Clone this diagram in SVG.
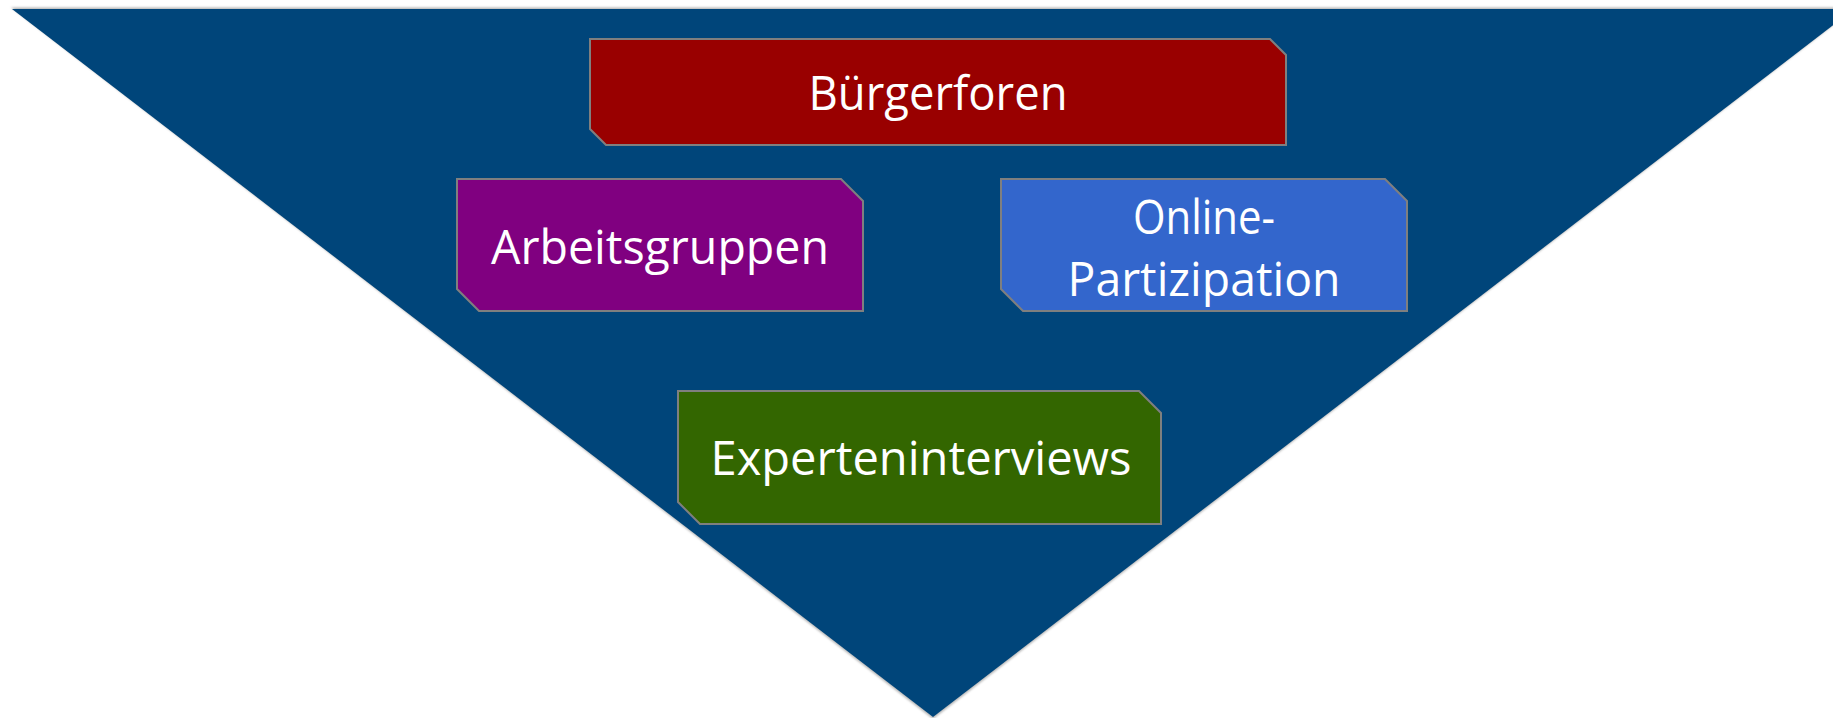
<svg xmlns="http://www.w3.org/2000/svg" width="1833" height="718" viewBox="0 0 1833 718">
  <defs>
    <filter id="soft" x="-5%" y="-5%" width="110%" height="110%">
      <feGaussianBlur stdDeviation="1.2"/>
    </filter>
    <style>
      .funnel { fill: #00457a; }
      .funnel-shadow { fill: #6f6f6f; opacity: 0.5; }
      .box { stroke: #7f7f7f; stroke-width: 2; }
      .label { font-family: "Open Sans", "Noto Sans", "Liberation Sans", sans-serif; font-size: 48px; fill: #ffffff; text-anchor: middle; }
    </style>
  </defs>

  <!-- background funnel -->
  <g id="funnel">
    <polygon class="funnel-shadow" points="11,7.5 1856,7.5 933,719" filter="url(#soft)"/>
    <polygon class="funnel" points="12,9 1854,9 933,717"/>
  </g>

  <g id="connectors"></g>

  <g id="node-buergerforen">
    <polygon class="box" fill="#990000" points="590,39 1270,39 1286,55 1286,145 606,145 590,129"/>
    <text class="label" x="938" y="110" textLength="259" lengthAdjust="spacingAndGlyphs">Bürgerforen</text>
  </g>

  <g id="node-arbeitsgruppen">
    <polygon class="box" fill="#800080" points="457,179 841,179 863,201 863,311 479,311 457,289"/>
    <text class="label" x="660" y="264" textLength="338" lengthAdjust="spacingAndGlyphs">Arbeitsgruppen</text>
  </g>

  <g id="node-online-partizipation">
    <polygon class="box" fill="#3366cc" points="1001,179 1385,179 1407,201 1407,311 1023,311 1001,289"/>
    <text class="label" x="1204" y="234" textLength="142" lengthAdjust="spacingAndGlyphs">Online-</text>
    <text class="label" x="1204" y="296" textLength="273" lengthAdjust="spacingAndGlyphs">Partizipation</text>
  </g>

  <g id="node-experteninterviews">
    <polygon class="box" fill="#336600" points="678,391 1139,391 1161,413 1161,524 700,524 678,502"/>
    <text class="label" x="921" y="475" textLength="421" lengthAdjust="spacingAndGlyphs">Experteninterviews</text>
  </g>
</svg>
